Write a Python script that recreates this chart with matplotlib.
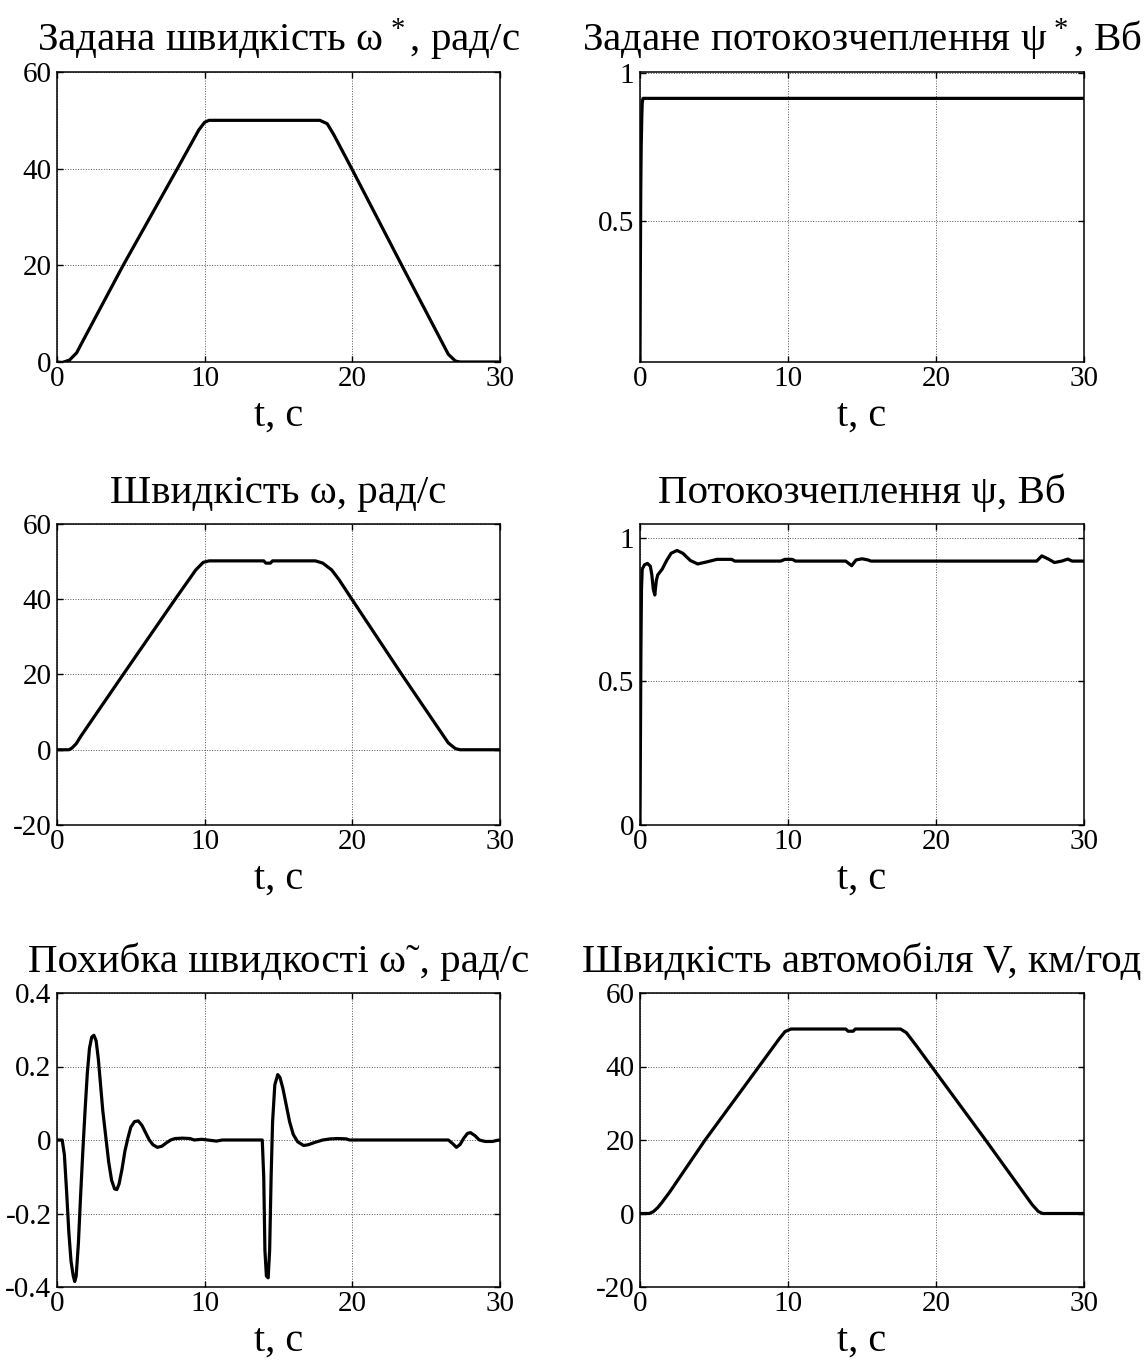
import matplotlib
matplotlib.use("Agg")
import matplotlib.pyplot as plt

plt.rcParams['font.family'] = ['Liberation Serif', 'DejaVu Serif']
plt.rcParams['mathtext.fontset'] = 'custom'
plt.rcParams['mathtext.rm'] = 'Liberation Serif'
plt.rcParams['mathtext.it'] = 'Liberation Serif:italic'
plt.rcParams['axes.unicode_minus'] = False

# ---- data ----
t_wref = [0, 0.36, 0.85, 1.33, 1.69, 4.48, 8.15, 9.6, 10.0, 10.3, 17.8, 18.3, 18.75, 19.96, 23.35, 26.5, 26.98, 27.3, 30]
w_ref = [0, -0.1, 0.4, 1.9, 4.0, 20, 40, 48, 49.6, 50, 50, 49.3, 47, 40, 20, 1.6, 0.2, 0, 0]

t_psiref = [0, 0.02, 0.05, 0.08, 0.12, 0.15, 0.2, 30]
psi_ref = [0.025, 0.3, 0.6, 0.75, 0.85, 0.9, 0.915, 0.915]

t_w = [0, 0.8, 1.0, 1.3, 1.6, 2.0, 4.48, 8.0, 9.4, 9.9, 10.3, 14.0, 14.15, 14.45, 14.6, 17.5, 18.0, 18.6, 19.1, 19.97, 23.35, 26.5, 26.98, 27.3, 30]
w = [0, 0, 0.4, 1.6, 3.5, 5.8, 20, 40, 47.8, 49.8, 50.2, 50.2, 49.6, 49.6, 50.2, 50.2, 49.6, 47.8, 45.2, 40, 20, 1.8, 0.3, 0, 0]

t_psi = [0, 0.03, 0.06, 0.1, 0.15, 0.3, 0.5, 0.7, 0.8, 0.9, 1.0, 1.1, 1.2, 1.35, 1.5, 1.8, 2.1, 2.5, 2.9, 3.4, 3.9, 4.5, 5.2, 6.2, 6.4, 9.5, 9.8, 10.3, 10.5,
         13.9, 14.3, 14.6, 15.0, 15.4, 15.6, 26.8, 27.15, 27.6, 28.0, 28.5, 28.9, 29.2, 30]
psi = [0, 0.3, 0.6, 0.82, 0.89, 0.905, 0.91, 0.9, 0.87, 0.82, 0.8, 0.85, 0.87, 0.88, 0.89, 0.92, 0.945, 0.955, 0.945, 0.92, 0.908, 0.915, 0.924, 0.924, 0.918, 0.918, 0.924, 0.924, 0.918,
       0.918, 0.902, 0.922, 0.926, 0.922, 0.918, 0.918, 0.936, 0.925, 0.913, 0.918, 0.925, 0.918, 0.918]

t_err = [0, 0.35, 0.5, 0.65, 0.8, 0.95, 1.1, 1.2, 1.3, 1.45, 1.6, 1.75, 1.9, 2.05, 2.2, 2.35, 2.5, 2.65, 2.8, 2.95,
         3.1, 3.3, 3.5, 3.7, 3.9, 4.05, 4.2, 4.4, 4.6, 4.8, 5.0, 5.25, 5.5, 5.75, 6.0, 6.25, 6.5, 6.8, 7.1, 7.4,
         7.7, 8.0, 8.5, 9.0, 9.3, 9.8, 10.2, 10.8, 11.2, 13.9, 14.0, 14.08, 14.18, 14.3, 14.4, 14.5, 14.6, 14.75,
         14.95, 15.1, 15.3, 15.5, 15.75, 16.0, 16.3, 16.7, 17.0, 17.5, 18.0, 18.5, 19.0, 19.6, 19.8, 26.5, 26.8,
         27.05, 27.3, 27.55, 27.8, 28.0, 28.3, 28.6, 29.0, 29.5, 29.8, 30.0]
err = [0, 0, -0.04, -0.14, -0.25, -0.33, -0.37, -0.385, -0.37, -0.28, -0.15, -0.03, 0.08, 0.18, 0.25, 0.28, 0.285, 0.27, 0.22, 0.15,
       0.08, 0.01, -0.06, -0.11, -0.133, -0.135, -0.12, -0.08, -0.03, 0.005, 0.035, 0.05, 0.052, 0.04, 0.02, 0.0, -0.013, -0.02, -0.017, -0.008,
       0.0, 0.004, 0.005, 0.004, 0.0, 0.002, 0.0, -0.003, 0.0, 0.0, -0.1, -0.3, -0.37, -0.375, -0.3, -0.1, 0.05, 0.15,
       0.178, 0.17, 0.14, 0.1, 0.05, 0.015, -0.005, -0.015, -0.013, -0.006, 0.0, 0.003, 0.004, 0.003, 0.0, 0.0, -0.01,
       -0.02, -0.012, 0.005, 0.018, 0.02, 0.012, 0.0, -0.004, -0.004, -0.001, 0.0]

t_v = [0, 0.63, 0.9, 1.2, 1.5, 2.0, 4.4, 8.04, 9.4, 9.8, 10.2, 13.9, 14.06, 14.4, 14.55, 17.6, 18.0, 18.7, 19.7, 23.35, 26.5, 26.9, 27.2, 30]
v = [0, 0, 0.5, 1.6, 3.1, 5.8, 20, 40, 47.5, 49.5, 50.2, 50.2, 49.6, 49.6, 50.2, 50.2, 49.2, 45.5, 40, 20, 2.4, 0.6, 0, 0]

titles = [r'Задана швидкість ω$^{\,*}$, рад/с', r'Задане потокозчеплення ψ$^{\,*}$, Вб',
          'Швидкість ω, рад/с', 'Потокозчеплення ψ, Вб',
          'Похибка швидкості ω˜, рад/с', 'Швидкість автомобіля V, км/год']
xlabel = 't, c'
x_ticks = [0, 10, 20, 30]

fig = plt.figure(figsize=(11.44, 13.6), dpi=100)
W, H = 1144, 1360
col_x = [(57, 500), (640, 1084)]
row_y = [(72, 362), (524, 825), (993, 1287)]

def make_ax(r, c):
    x0, x1 = col_x[c]
    y0, y1 = row_y[r]
    return fig.add_axes([x0 / W, 1 - y1 / H, (x1 - x0) / W, (y1 - y0) / H])

series = [(t_wref, w_ref), (t_psiref, psi_ref), (t_w, w), (t_psi, psi), (t_err, err), (t_v, v)]
ylims = [(0, 60), (0.025, 1.004), (-20, 60), (0, 1.047), (-0.4, 0.4), (-20, 60)]
yticks = [[0, 20, 40, 60], [0.5, 1], [-20, 0, 20, 40, 60], [0, 0.5, 1],
          [-0.4, -0.2, 0, 0.2, 0.4], [-20, 0, 20, 40, 60]]
ytl = [['0', '20', '40', '60'], ['0.5', '1'], ['-20', '0', '20', '40', '60'], ['0', '0.5', '1'],
       ['-0.4', '-0.2', '0', '0.2', '0.4'], ['-20', '0', '20', '40', '60']]

for i in range(6):
    r, c = divmod(i, 2)
    ax = make_ax(r, c)
    tt, yy = series[i]
    ax.plot(tt, yy, color='black', lw=2.3, solid_joinstyle='round', zorder=3)
    ax.set_xlim(0, 30)
    ax.set_ylim(*ylims[i])
    ax.set_xticks(x_ticks)
    ax.set_xticklabels([str(x) for x in x_ticks])
    ax.set_yticks(yticks[i])
    ax.set_yticklabels(ytl[i])
    ax.grid(True, linestyle=':', color='#555555', lw=0.7)
    ax.tick_params(direction='in', length=4, width=1, top=True, right=True,
                   labelsize=21)
    ax.tick_params(axis='x', pad=3)
    ax.tick_params(axis='y', pad=4)
    for s in ax.spines.values():
        s.set_linewidth(1.1)
    ax.set_title(titles[i], fontsize=29.5, pad=15)
    ax.set_xlabel(xlabel, fontsize=29, labelpad=4)

fig.savefig('out.png', dpi=100)
